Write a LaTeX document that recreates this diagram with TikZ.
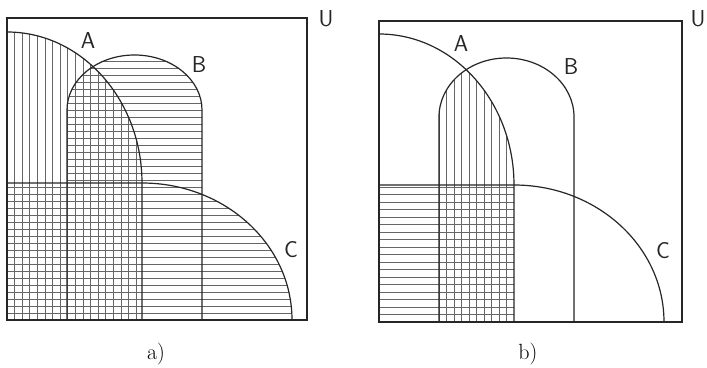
\documentclass[tikz,border=0pt]{standalone}
\usepackage{fontspec}
\begin{document}
\begin{tikzpicture}[x=1pt,y=1pt,
  outline/.style={line width=1.2pt,draw=black!85},
  hatchline/.style={line width=0.7pt,draw=black!60},
  setlabel/.style={font=\sffamily\fontsize{23}{23}\selectfont,inner sep=0pt,text=black!85},
  caption/.style={font=\fontsize{22}{22}\selectfont,inner sep=0pt}]
\useasboundingbox (0,0) rectangle (707,367);
\fill[white] (0,0) rectangle (707,367);

% ---------- panel a ----------
\def\PaA{(7,47) -- (7,335) arc[start angle=90,end angle=0,x radius=135,y radius=151] -- (142,47) -- cycle}
\def\PaB{(67,47) -- (67,257) arc[start angle=180,end angle=0,x radius=67.5,y radius=55] -- (202,47) -- cycle}
\def\PaC{(7,47) -- (7,184) -- (142,184) arc[start angle=90,end angle=0,x radius=150,y radius=137] -- cycle}

\begin{scope}
  \clip \PaA;
  \foreach \x in {7,14.6,...,150} \draw[hatchline] (\x,40) -- (\x,340);
\end{scope}
\begin{scope}
  \clip \PaB;
  \foreach \y in {47,54,...,330} \draw[hatchline] (0,\y) -- (320,\y);
\end{scope}
\begin{scope}
  \clip \PaC;
  \foreach \y in {47,54,...,330} \draw[hatchline] (0,\y) -- (320,\y);
\end{scope}

\draw[outline] (7,47) rectangle (307,349);
\draw[outline] \PaA;
\draw[outline] \PaB;
\draw[outline] \PaC;

\node[setlabel] (aU) at (326,348) {U};
\node[setlabel] (aA) at (88,326) {A};
\node[setlabel] (aB) at (199,302) {B};
\node[setlabel] (aC) at (291,117) {C};
\node[caption] (capa) at (156,13) {a)};

% ---------- panel b ----------
\def\PbA{(379,45) -- (379,333) arc[start angle=90,end angle=0,x radius=135,y radius=151] -- (514,45) -- cycle}
\def\PbB{(439,45) -- (439,250) arc[start angle=180,end angle=0,x radius=67.5,y radius=59] -- (574,45) -- cycle}
\def\PbC{(379,45) -- (379,182) -- (514,182) arc[start angle=90,end angle=0,x radius=150,y radius=137] -- cycle}

% A and B: vertical
\begin{scope}
  \clip \PbA;
  \clip \PbB;
  \foreach \x in {439,446.5,...,520} \draw[hatchline] (\x,40) -- (\x,340);
\end{scope}
% A and C: horizontal
\begin{scope}
  \clip \PbA;
  \clip \PbC;
  \foreach \y in {45,52.5,...,190} \draw[hatchline] (370,\y) -- (690,\y);
\end{scope}

\draw[outline] (379,45) rectangle (682,346);
\draw[outline] \PbA;
\draw[outline] \PbB;
\draw[outline] \PbC;

\node[setlabel] (bU) at (698,348) {U};
\node[setlabel] (bA) at (461,323) {A};
\node[setlabel] (bB) at (571,300) {B};
\node[setlabel] (bC) at (663,116) {C};
\node[caption] (capb) at (528,13) {b)};
\end{tikzpicture}
\end{document}
